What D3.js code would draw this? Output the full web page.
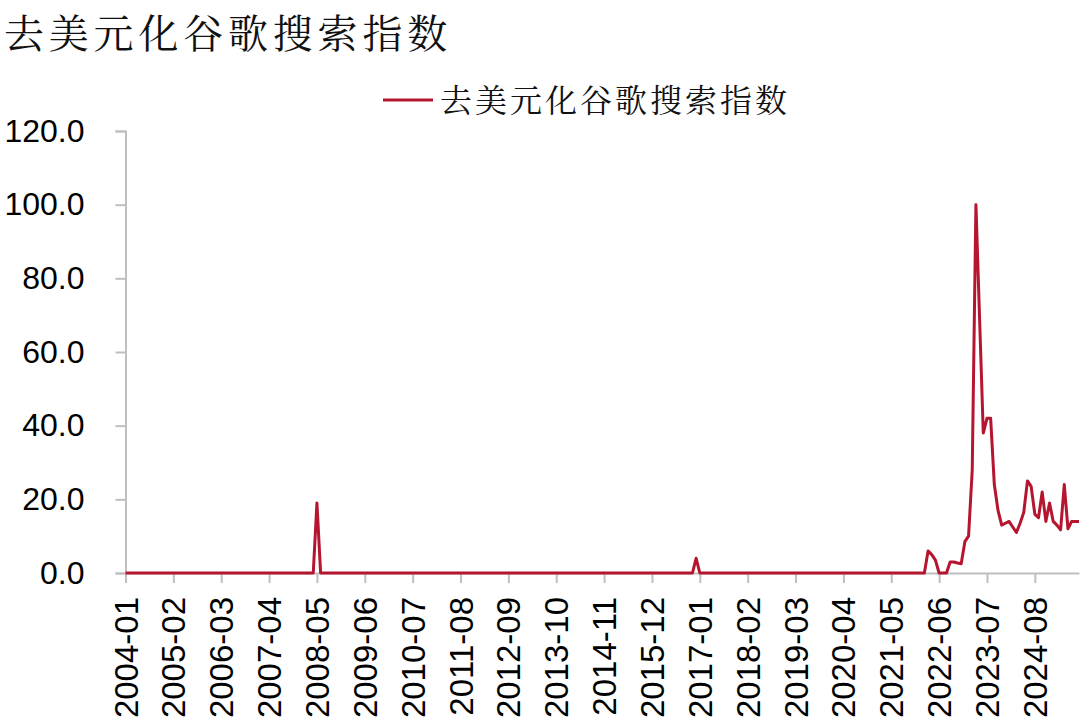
<!DOCTYPE html>
<html>
<head>
<meta charset="utf-8">
<script src="https://cdn.jsdelivr.net/npm/d3@7/dist/d3.min.js"></script>
<style>
  html, body { margin: 0; padding: 0; background: #fff; }
  svg { display: block; }
</style>
</head>
<body>
<svg id="chart" width="1080" height="726"></svg>
<script>
// ---- data ----
const title = "去美元化谷歌搜索指数";
const seriesName = "去美元化谷歌搜索指数";
const startMonth = "2004-01";
// monthly values, 2004-01 .. 2025-08 (one row per year)
const values = [
  0,0,0,0,0,0,0,0,0,0,0,0,          // 2004
  0,0,0,0,0,0,0,0,0,0,0,0,          // 2005
  0,0,0,0,0,0,0,0,0,0,0,0,          // 2006
  0,0,0,0,0,0,0,0,0,0,0,0,          // 2007
  0,0,0,0,19,0,0,0,0,0,0,0,         // 2008
  0,0,0,0,0,0,0,0,0,0,0,0,          // 2009
  0,0,0,0,0,0,0,0,0,0,0,0,          // 2010
  0,0,0,0,0,0,0,0,0,0,0,0,          // 2011
  0,0,0,0,0,0,0,0,0,0,0,0,          // 2012
  0,0,0,0,0,0,0,0,0,0,0,0,          // 2013
  0,0,0,0,0,0,0,0,0,0,0,0,          // 2014
  0,0,0,0,0,0,0,0,0,0,0,0,          // 2015
  0,0,0,0,0,0,0,0,0,0,0,4,          // 2016
  0,0,0,0,0,0,0,0,0,0,0,0,          // 2017
  0,0,0,0,0,0,0,0,0,0,0,0,          // 2018
  0,0,0,0,0,0,0,0,0,0,0,0,          // 2019
  0,0,0,0,0,0,0,0,0,0,0,0,          // 2020
  0,0,0,0,0,0,0,0,0,0,0,0,          // 2021
  0,0,6,5,3.5,0,0,0,3,3,2.7,2.5,    // 2022
  8.5,10,28,100,69,38,42,42,24,17,13,13.5, // 2023
  14,12.5,11,13.5,16.5,25,23.5,16,15,22,14,19, // 2024
  14,13,11.7,24,12,14,14,14         // 2025
];
const yTicks = [0, 20, 40, 60, 80, 100, 120];
const xTickStep = 13;

// ---- categories (month labels) ----
const parse = d3.timeParse("%Y-%m");
const fmt = d3.timeFormat("%Y-%m");
const start = parse(startMonth);
const categories = values.map((_, i) => fmt(d3.timeMonth.offset(start, i)));
const xTickLabels = categories.filter((_, i) => i % xTickStep === 0);

// ---- layout ----
const svg = d3.select("#chart");
const plotLeft = 125.5, plotRight = 1079, plotTop = 131, plotBottom = 573;
const axisColor = "#bfbfbf";
const lineColor = "#b5152f";
const latin = "'Liberation Sans', Arial, sans-serif";
const cjk = "'Noto Serif CJK SC', 'Noto Sans CJK SC', serif";

const x = d3.scalePoint().domain(categories).range([plotLeft, plotRight]);
const y = d3.scaleLinear().domain([0, 120]).range([plotBottom, plotTop]);

// title
svg.append("text")
  .attr("x", 4).attr("y", 48)
  .attr("font-family", cjk).attr("font-size", 40)
  .attr("letter-spacing", 4.8)
  .attr("fill", "#111")
  .text(title);

// legend
svg.append("line")
  .attr("x1", 383).attr("x2", 433).attr("y1", 100).attr("y2", 100)
  .attr("stroke", lineColor).attr("stroke-width", 3);
svg.append("text")
  .attr("x", 440).attr("y", 112)
  .attr("font-family", cjk).attr("font-size", 32)
  .attr("letter-spacing", 3)
  .attr("fill", "#111")
  .text(seriesName);

// y axis
const yAxis = d3.axisLeft(y).tickValues(yTicks).tickSize(10).tickPadding(31)
  .tickFormat(d3.format(".1f"));
const gy = svg.append("g").attr("transform", `translate(${plotLeft},0)`).call(yAxis);
gy.select(".domain").attr("stroke", axisColor).attr("stroke-width", 2);
gy.selectAll(".tick line").attr("stroke", axisColor).attr("stroke-width", 2);
gy.selectAll(".tick text").attr("font-family", latin).attr("font-size", 32).attr("fill", "#000");

// x axis
const xAxis = d3.axisBottom(x).tickValues(xTickLabels).tickSize(10).tickSizeOuter(0);
const gx = svg.append("g").attr("transform", `translate(0,${plotBottom})`).call(xAxis);
gx.select(".domain").attr("stroke", axisColor).attr("stroke-width", 2);
gx.selectAll(".tick line").attr("stroke", axisColor).attr("stroke-width", 2);
gx.selectAll(".tick text")
  .attr("font-family", latin).attr("font-size", 33).attr("fill", "#000")
  .attr("text-anchor", "end")
  .attr("dy", "0.35em")
  .attr("transform", "translate(0,24) rotate(-90)")
  .attr("x", 0).attr("y", 0);

// line
const line = d3.line()
  .x((d, i) => x(categories[i]))
  .y(d => y(d));
svg.append("path")
  .datum(values)
  .attr("fill", "none")
  .attr("stroke", lineColor)
  .attr("stroke-width", 3)
  .attr("stroke-linejoin", "round")
  .attr("d", line);
</script>
</body>
</html>
